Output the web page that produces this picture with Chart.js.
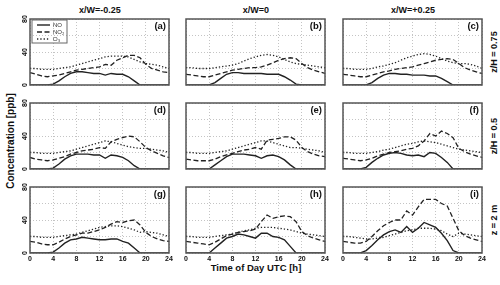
<!DOCTYPE html>
<html lang="en">
<head>
  <meta charset="UTF-8">
  <title>Diurnal NO, NO2 and O3 concentrations</title>
  <script src="https://cdn.jsdelivr.net/npm/chart.js"></script>
  <style>
    body {
      margin: 0;
      width: 500px;
      height: 285px;
      position: relative;
      overflow: hidden;
      background: #fff;
      font-family: 'Liberation Sans', Arial, sans-serif;
      color: #111;
    }
    .panel { position: absolute; }
    .panel canvas { display: block; }
    .lbl {
      position: absolute;
      font-weight: bold;
      white-space: nowrap;
      line-height: 1;
      transform: translate(-50%, -50%);
    }
    .vert { transform: translate(-50%, -50%) rotate(-90deg); }
  </style>
</head>
<body>
  <div class="lbl" style="left:100px;top:10px;font-size:9px">x/W=-0.25</div>
  <div class="lbl" style="left:256px;top:10px;font-size:9px">x/W=0</div>
  <div class="lbl" style="left:413px;top:10px;font-size:9px">x/W=+0.25</div>

  <div class="lbl vert" style="left:494px;top:52px;font-size:9px">z/H = 0.75</div>
  <div class="lbl vert" style="left:494px;top:136px;font-size:9px">z/H = 0.5</div>
  <div class="lbl vert" style="left:494px;top:220px;font-size:9px">z = 2 m</div>

  <div class="lbl vert" style="left:11px;top:141px;font-size:10px">Concentration [ppb]</div>
  <div class="lbl" style="left:256px;top:268px;font-size:9.5px">Time of Day UTC [h]</div>

  <script>
    // hours of the day, one value per hour
    const hours = [0,1,2,3,4,5,6,7,8,9,10,11,12,13,14,15,16,17,18,19,20,21,22,23,24];
    const xTicks = [0, 4, 8, 12, 16, 20, 24];
    const yTicks = [0, 40, 80];
    const seriesNames = ['NO', 'NO\u2082', 'O\u2083'];
    const panelLetters = ['(a)','(b)','(c)','(d)','(e)','(f)','(g)','(h)','(i)'];

    // row 1: z/H = 0.75
    const noA  = [0,0,0,0,1,5,10,14,16,16,15,14,14,12,14,13,13,10,5,0,0,0,0,0,0];
    const no2A = [15,13,11,10,11,12,14,16,18,19,20,21,22,25,24,30,33,36,36,33,25,20,18,16,15];
    const o3A  = [20,20,19,19,19,20,21,22,24,26,28,30,32,34,35,35,35,34,31,28,26,25,24,22,20];

    const noB  = [0,0,0,0,0,3,8,13,15,15,14,14,14,14,13,13,13,10,6,1,0,0,0,0,0];
    const no2B = [13,12,11,10,10,12,14,16,18,19,20,21,21,22,24,27,30,32,33,32,26,21,18,16,14];
    const o3B  = [21,21,20,20,20,21,22,23,24,26,29,32,34,36,37,36,34,31,28,26,25,24,23,22,21];

    const noC  = [0,0,0,0,0,3,8,12,14,14,13,13,12,12,12,11,11,8,4,0,0,0,0,0,0];
    const no2C = [13,12,11,10,10,12,14,16,17,19,20,21,22,24,26,28,30,31,32,31,26,21,18,16,14];
    const o3C  = [20,20,19,19,19,20,22,23,25,27,30,33,35,37,38,37,35,32,29,27,26,26,25,23,20];

    // row 2: z/H = 0.5
    const noD  = [0,0,0,0,1,6,12,16,18,18,18,17,17,13,17,16,14,10,4,0,0,0,0,0,0];
    const no2D = [14,12,11,10,11,13,15,18,20,22,23,24,26,25,33,36,38,40,39,33,26,22,19,16,14];
    const o3D  = [20,20,19,19,19,20,21,22,24,26,28,30,32,34,33,31,29,27,26,25,25,24,23,22,20];

    const noE  = [0,0,0,0,0,5,10,15,18,18,18,17,16,13,16,17,15,11,5,0,0,0,0,0,0];
    const no2E = [12,11,10,10,10,12,15,17,19,21,23,24,26,24,35,36,37,39,39,35,26,21,18,16,15];
    const o3E  = [20,20,19,19,19,20,21,22,24,26,28,30,32,34,34,32,30,28,26,26,25,24,23,22,20];

    const noF  = [0,0,0,0,2,8,13,17,19,20,19,17,16,17,15,20,19,14,8,0,0,0,0,0,0];
    const no2F = [13,12,11,10,11,13,16,18,20,21,22,24,25,28,34,43,40,46,43,38,25,21,18,16,14];
    const o3F  = [20,20,19,19,19,20,21,23,24,26,28,30,31,33,34,33,32,30,28,26,24,23,22,21,20];

    // row 3: z = 2 m
    const noG  = [0,0,0,0,1,6,12,16,17,19,18,17,16,16,17,17,14,12,6,0,0,0,0,0,0];
    const no2G = [14,13,11,10,10,13,17,20,22,24,24,26,28,31,35,38,37,39,40,34,25,20,17,15,14];
    const o3G  = [20,20,19,19,19,20,21,22,23,25,27,29,31,32,33,33,32,30,28,25,26,25,24,22,20];

    const noH  = [0,0,0,0,0,6,12,18,20,23,22,20,18,24,24,20,19,16,8,0,0,0,0,0,0];
    const no2H = [14,13,12,11,10,13,17,21,23,25,26,27,29,38,46,42,44,45,44,38,26,21,18,16,14];
    const o3H  = [20,20,19,19,19,20,21,22,23,25,27,28,30,31,31,31,30,29,28,26,24,23,22,21,20];

    const noI  = [0,0,0,0,3,9,16,22,26,28,25,32,25,30,37,34,31,24,15,3,0,0,0,0,0];
    const no2I = [14,13,12,12,14,20,27,33,37,40,40,51,46,56,65,65,65,60,57,42,27,21,18,16,14];
    const o3I  = [20,20,19,18,17,17,18,19,21,23,25,27,28,30,30,30,29,27,23,20,24,23,22,21,20];

    const panels = [
      [noA, no2A, o3A], [noB, no2B, o3B], [noC, no2C, o3C],
      [noD, no2D, o3D], [noE, no2E, o3E], [noF, no2F, o3F],
      [noG, no2G, o3G], [noH, no2H, o3H], [noI, no2I, o3I]
    ];

    // plot area of each panel, in page pixels
    const colLeft = [30, 186, 343];
    const rowTop = [19, 103, 187];
    const plotW = 139, plotH = 66;
    const M = { l: 16, t: 6, r: 8, b: 14 };

    const lineStyles = [
      { borderDash: [], borderWidth: 1.4 },
      { borderDash: [5, 2.5], borderWidth: 1.3 },
      { borderDash: [1.3, 2], borderWidth: 1.3 }
    ];

    Chart.defaults.font.family = "'Liberation Sans', Arial, sans-serif";

    const framePlugin = {
      id: 'frame',
      afterDatasetsDraw(chart) {
        const a = chart.chartArea, ctx = chart.ctx;
        ctx.save();
        ctx.strokeStyle = '#555';
        ctx.lineWidth = 1.5;
        ctx.setLineDash([]);
        ctx.strokeRect(a.left, a.top, a.right - a.left, a.bottom - a.top);
        const opts = chart.options.plugins.frame;
        ctx.fillStyle = '#111';
        ctx.font = "bold 9.5px 'Liberation Sans', Arial, sans-serif";
        ctx.textAlign = 'right';
        ctx.textBaseline = 'top';
        ctx.fillText(opts.letter, a.right - 3, a.top + 3);
        if (opts.legend) {
          const x = a.left + 2, y = a.top + 1;
          ctx.strokeStyle = '#666';
          ctx.lineWidth = 1;
          ctx.strokeRect(x, y, 35, 23);
          ctx.font = "6px 'Liberation Sans', Arial, sans-serif";
          ctx.textAlign = 'left';
          ctx.textBaseline = 'middle';
          chart.data.datasets.forEach((ds, i) => {
            const ly = y + 5 + i * 7;
            ctx.strokeStyle = ds.borderColor;
            ctx.lineWidth = ds.borderWidth;
            ctx.setLineDash(ds.borderDash);
            ctx.beginPath();
            ctx.moveTo(x + 5, ly);
            ctx.lineTo(x + 18, ly);
            ctx.stroke();
            ctx.fillStyle = '#333';
            ctx.fillText(ds.label, x + 21, ly);
          });
        }
        ctx.restore();
      }
    };

    panels.forEach((series, k) => {
      const r = Math.floor(k / 3), c = k % 3;
      const wrap = document.createElement('div');
      wrap.className = 'panel';
      wrap.style.left = (colLeft[c] - M.l) + 'px';
      wrap.style.top = (rowTop[r] - M.t) + 'px';
      const canvas = document.createElement('canvas');
      canvas.width = plotW + M.l + M.r;
      canvas.height = plotH + M.t + M.b;
      wrap.appendChild(canvas);
      document.body.appendChild(wrap);

      const datasets = series.map((vals, i) => ({
        label: seriesNames[i],
        data: hours.map((h, j) => ({ x: h, y: vals[j] })),
        borderColor: '#222',
        borderWidth: lineStyles[i].borderWidth,
        borderDash: lineStyles[i].borderDash,
        pointRadius: 0,
        tension: 0,
        fill: false
      }));

      new Chart(canvas, {
        type: 'line',
        data: { datasets },
        plugins: [framePlugin],
        options: {
          responsive: false,
          animation: false,
          events: [],
          layout: { padding: { top: M.t, right: M.r, left: 0, bottom: 0 } },
          plugins: {
            legend: { display: false },
            tooltip: { enabled: false },
            frame: { letter: panelLetters[k], legend: k === 0 }
          },
          scales: {
            x: {
              type: 'linear',
              min: 0, max: 24,
              afterFit: s => { s.height = M.b; },
              afterBuildTicks: s => { s.ticks = xTicks.map(v => ({ value: v })); },
              ticks: {
                display: r === 2,
                font: { size: 7, weight: 'bold' },
                color: '#111',
                padding: 2,
                maxRotation: 0,
                autoSkip: false
              },
              grid: { color: '#c4c4c4', lineWidth: 1, drawTicks: false },
              border: { display: false, dash: [1, 2] }
            },
            y: {
              min: 0, max: 80,
              afterFit: s => { s.width = M.l; },
              ticks: {
                display: c === 0,
                stepSize: 20,
                callback: v => (yTicks.includes(v) ? v : ''),
                font: { size: 7, weight: 'bold' },
                color: '#111',
                padding: 1,
                minRotation: 90,
                maxRotation: 90,
                crossAlign: 'center'
              },
              grid: { color: '#c4c4c4', lineWidth: 1, drawTicks: false },
              border: { display: false, dash: [1, 2] }
            }
          }
        }
      });
    });
  </script>
</body>
</html>
